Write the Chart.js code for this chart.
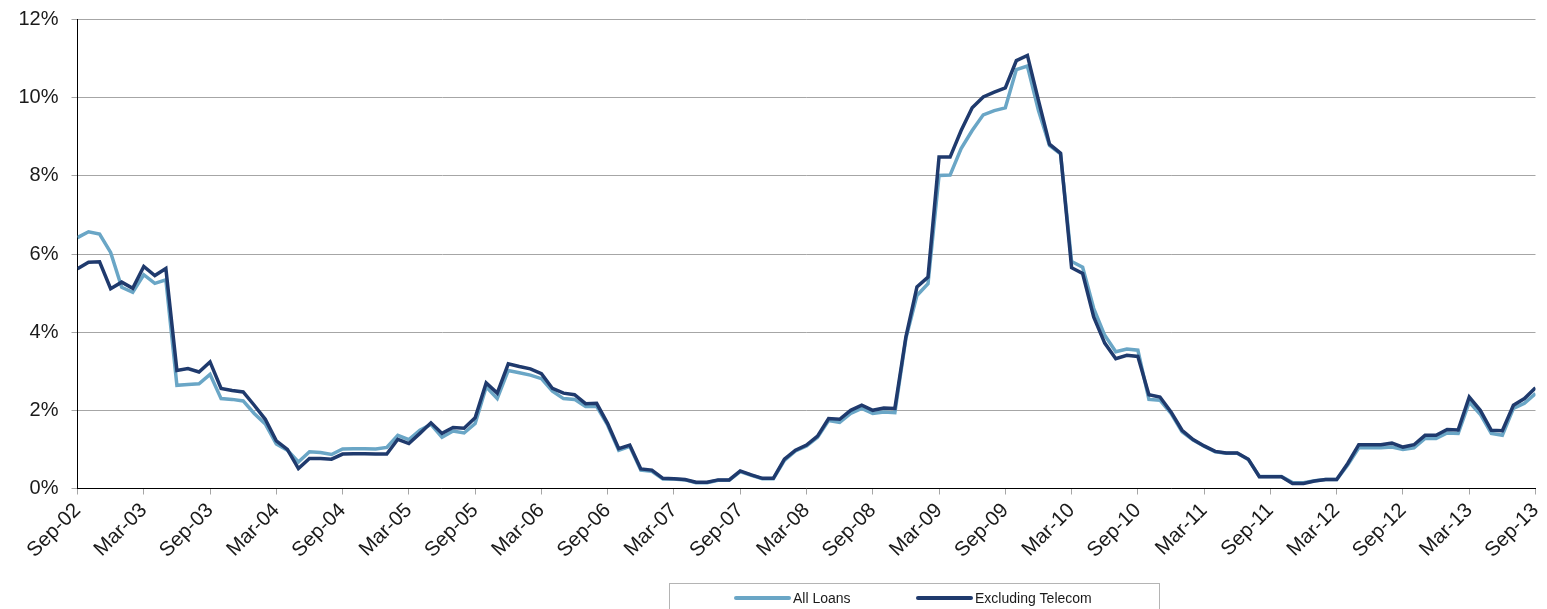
<!DOCTYPE html>
<html>
<head>
<meta charset="utf-8">
<script src="https://cdn.jsdelivr.net/npm/chart.js@4.4.1/dist/chart.umd.min.js"></script>
<style>
  html, body { margin: 0; padding: 0; background: #fff; }
  #chart { display: block; }
</style>
</head>
<body>
<canvas id="chart" width="1547" height="609"></canvas>
<script>
// ===== DATA =====
// Monthly, Sep-02 .. Sep-13 (133 months), values in %
const tickLabels = [
  'Sep-02', 'Mar-03', 'Sep-03', 'Mar-04', 'Sep-04', 'Mar-05', 'Sep-05', 'Mar-06',
  'Sep-06', 'Mar-07', 'Sep-07', 'Mar-08', 'Sep-08', 'Mar-09', 'Sep-09', 'Mar-10',
  'Sep-10', 'Mar-11', 'Sep-11', 'Mar-12', 'Sep-12', 'Mar-13', 'Sep-13'
];

const allLoans = [
  6.42, 6.57, 6.51, 6.04, 5.15, 5.02, 5.47, 5.25, 5.34, 2.64, 2.66, 2.68,
  2.92, 2.30, 2.28, 2.24, 1.92, 1.65, 1.14, 0.98, 0.68, 0.94, 0.92, 0.87,
  1.01, 1.02, 1.02, 1.01, 1.05, 1.36, 1.25, 1.49, 1.64, 1.31, 1.47, 1.42,
  1.66, 2.60, 2.30, 3.02, 2.96, 2.90, 2.81, 2.49, 2.30, 2.28, 2.10, 2.10,
  1.62, 0.98, 1.08, 0.47, 0.44, 0.24, 0.24, 0.22, 0.15, 0.15, 0.21, 0.21,
  0.43, 0.34, 0.25, 0.25, 0.72, 0.96, 1.09, 1.31, 1.74, 1.69, 1.92, 2.05,
  1.92, 1.96, 1.94, 3.84, 4.94, 5.24, 8.01, 8.02, 8.70, 9.16, 9.56, 9.67,
  9.74, 10.72, 10.81, 9.67, 8.78, 8.56, 5.81, 5.66, 4.61, 3.92, 3.50, 3.57,
  3.54, 2.28, 2.26, 1.92, 1.45, 1.24, 1.08, 0.94, 0.90, 0.90, 0.74, 0.31,
  0.31, 0.31, 0.15, 0.15, 0.20, 0.23, 0.23, 0.60, 1.04, 1.04, 1.04, 1.06,
  1.00, 1.04, 1.28, 1.28, 1.42, 1.41, 2.21, 1.90, 1.41, 1.36, 2.05, 2.18,
  2.43
];

const exTelecom = [
  5.62, 5.79, 5.80, 5.11, 5.28, 5.12, 5.68, 5.45, 5.63, 3.02, 3.07, 2.98,
  3.24, 2.56, 2.51, 2.47, 2.13, 1.77, 1.22, 1.00, 0.51, 0.77, 0.77, 0.75,
  0.88, 0.89, 0.89, 0.88, 0.88, 1.26, 1.15, 1.41, 1.68, 1.41, 1.56, 1.54,
  1.81, 2.70, 2.44, 3.19, 3.12, 3.06, 2.94, 2.56, 2.44, 2.40, 2.17, 2.18,
  1.66, 1.02, 1.11, 0.50, 0.47, 0.26, 0.25, 0.23, 0.16, 0.16, 0.22, 0.22,
  0.45, 0.35, 0.26, 0.26, 0.75, 0.98, 1.11, 1.34, 1.79, 1.77, 2.00, 2.13,
  2.00, 2.06, 2.05, 3.88, 5.16, 5.41, 8.48, 8.48, 9.16, 9.74, 10.02, 10.14,
  10.25, 10.95, 11.08, 9.93, 8.81, 8.58, 5.65, 5.50, 4.39, 3.72, 3.32, 3.41,
  3.38, 2.40, 2.34, 1.96, 1.49, 1.25, 1.09, 0.95, 0.91, 0.91, 0.75, 0.30,
  0.30, 0.30, 0.13, 0.13, 0.19, 0.23, 0.23, 0.64, 1.12, 1.12, 1.12, 1.16,
  1.06, 1.12, 1.36, 1.36, 1.51, 1.50, 2.34, 2.00, 1.49, 1.48, 2.13, 2.30,
  2.58
];

const seriesNames = ['All Loans', 'Excluding Telecom'];
const seriesColors = ['#6aa6c6', '#1f3a6d'];

// ===== STYLE =====
const FONT = "'Liberation Sans', Arial, sans-serif";
const gridColor = '#a6a6a6';
const textColor = '#1a1a1a';

const toPoints = arr => arr.map((v, i) => ({ x: i, y: v }));

// Legend is drawn by hand: boxed, sitting right of centre like the original
const boxLegend = {
  id: 'boxLegend',
  afterDraw(chart) {
    const ctx = chart.ctx;
    ctx.save();
    ctx.strokeStyle = '#b4b4b4';
    ctx.lineWidth = 1;
    ctx.strokeRect(669.5, 583.5, 490, 40);

    const starts = [736, 918];
    const y = 598;
    ctx.font = `14px ${FONT}`;
    ctx.textBaseline = 'middle';
    ctx.fillStyle = textColor;
    chart.data.datasets.forEach((ds, i) => {
      ctx.strokeStyle = ds.borderColor;
      ctx.lineWidth = 4;
      ctx.lineCap = 'round';
      ctx.beginPath();
      ctx.moveTo(starts[i], y);
      ctx.lineTo(starts[i] + 53, y);
      ctx.stroke();
      ctx.fillText(ds.label, starts[i] + 57, y + 1);
    });
    ctx.restore();
  }
};

new Chart(document.getElementById('chart'), {
  type: 'line',
  data: {
    datasets: [
      {
        label: seriesNames[0],
        data: toPoints(allLoans),
        borderColor: seriesColors[0],
        borderWidth: 3.5,
        pointRadius: 0,
        tension: 0,
        order: 1
      },
      {
        label: seriesNames[1],
        data: toPoints(exTelecom),
        borderColor: seriesColors[1],
        borderWidth: 3.5,
        pointRadius: 0,
        tension: 0,
        order: 0
      }
    ]
  },
  options: {
    responsive: false,
    animation: false,
    layout: { padding: { top: 19.5, right: 11.5, bottom: 0, left: 0 } },
    plugins: {
      legend: { display: false },
      tooltip: { enabled: false }
    },
    scales: {
      x: {
        type: 'linear',
        min: 0,
        max: 132,
        // fixed plot box; drop the label overhang padding Chart.js adds
        afterFit: s => { s.height = 120.5; s.paddingLeft = 0; s.paddingRight = 0; },
        border: { color: '#000', width: 1 },
        grid: { drawOnChartArea: false, color: gridColor, tickLength: 6 },
        ticks: {
          stepSize: 6,
          autoSkip: false,
          maxRotation: 45,
          minRotation: 45,
          padding: 4,
          color: textColor,
          font: { family: FONT, size: 20.5 },
          callback: v => tickLabels[v / 6]
        }
      },
      y: {
        min: 0,
        max: 12,
        afterFit: s => { s.width = 77.5; s.paddingTop = 0; s.paddingBottom = 0; },
        border: { color: '#000', width: 1 },
        grid: { color: gridColor, tickLength: 6 },
        ticks: {
          stepSize: 2,
          padding: 13,
          color: textColor,
          font: { family: FONT, size: 20 },
          callback: v => v + '%'
        }
      }
    }
  },
  plugins: [boxLegend]
});
</script>
</body>
</html>
